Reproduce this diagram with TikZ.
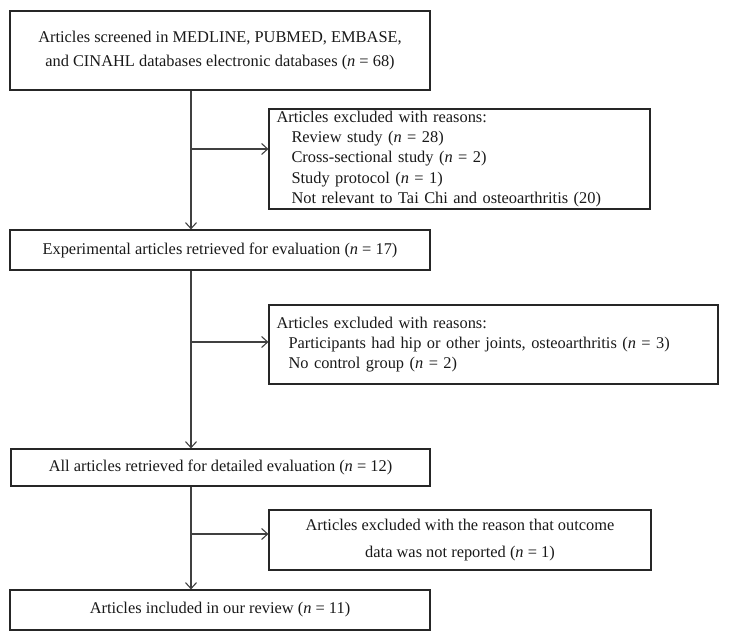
\documentclass[tikz,border=0pt]{standalone}
\usepackage{fontspec}
\setmainfont{Liberation Serif}
\usetikzlibrary{arrows.meta}
\begin{document}
\begin{tikzpicture}[x=1pt,y=-1pt,
  box/.style={draw=black!85, line width=1.2pt, inner sep=0pt, text=black!90, align=center},
  txa/.style={font=\fontsize{16.4}{24.5}\selectfont},
  txb/.style={font=\fontsize{16.4}{20.3}\selectfont},
  txc/.style={font=\fontsize{16.4}{27.5}\selectfont},
  conn/.style={draw=black!75, line width=1.2pt, -{Straight Barb[length=6pt,width=11pt,line width=1.1pt]}},
  ]
\useasboundingbox (0,0) rectangle (729,641);
\node[box, txa, minimum width=420pt, minimum height=79pt] (b1) at (220,50.5)
  {Articles screened in MEDLINE, PUBMED, EMBASE,\\ and CINAHL databases electronic databases (\textit{n} = 68)};
\node[box, txb, align=left, text width=366pt, inner xsep=7.5pt, minimum height=100pt] (e1) at (459.5,159)
  {Articles excluded with reasons:\\
   \hspace*{15pt}Review study (\textit{n} = 28)\\
   \hspace*{15pt}Cross-sectional study (\textit{n} = 2)\\
   \hspace*{15pt}Study protocol (\textit{n} = 1)\\
   \hspace*{15pt}Not relevant to Tai Chi and osteoarthritis (20)};
\node[box, txa, minimum width=420pt, minimum height=40pt] (b2) at (220,250)
  {Experimental articles retrieved for evaluation (\textit{n} = 17)};
\node[box, txb, align=left, text width=434pt, inner xsep=7.5pt, minimum height=79pt] (e2) at (493.5,344.5)
  {Articles excluded with reasons:\\
   \hspace*{12pt}Participants had hip or other joints, osteoarthritis (\textit{n} = 3)\\
   \hspace*{12pt}No control group (\textit{n} = 2)};
\node[box, txa, minimum width=419pt, minimum height=37pt] (b3) at (220.5,467.5)
  {All articles retrieved for detailed evaluation (\textit{n} = 12)};
\node[box, txc, minimum width=382pt, minimum height=60pt] (e3) at (460,540)
  {Articles excluded with the reason that outcome\\ data was not reported (\textit{n} = 1)};
\node[box, txa, minimum width=420pt, minimum height=40pt] (b4) at (220,610)
  {Articles included in our review (\textit{n} = 11)};
\coordinate (j1) at (191,149);
\coordinate (j2) at (191,342);
\coordinate (j3) at (191,534);
\draw[conn] (b1.south -| j1) -- (b2.north -| j1);
\draw[conn] (b2.south -| j1) -- (b3.north -| j1);
\draw[conn] (b3.south -| j1) -- (b4.north -| j1);
\draw[conn] (j1) -- (j1 -| e1.west);
\draw[conn] (j2) -- (j2 -| e2.west);
\draw[conn] (j3) -- (j3 -| e3.west);
\end{tikzpicture}
\end{document}
